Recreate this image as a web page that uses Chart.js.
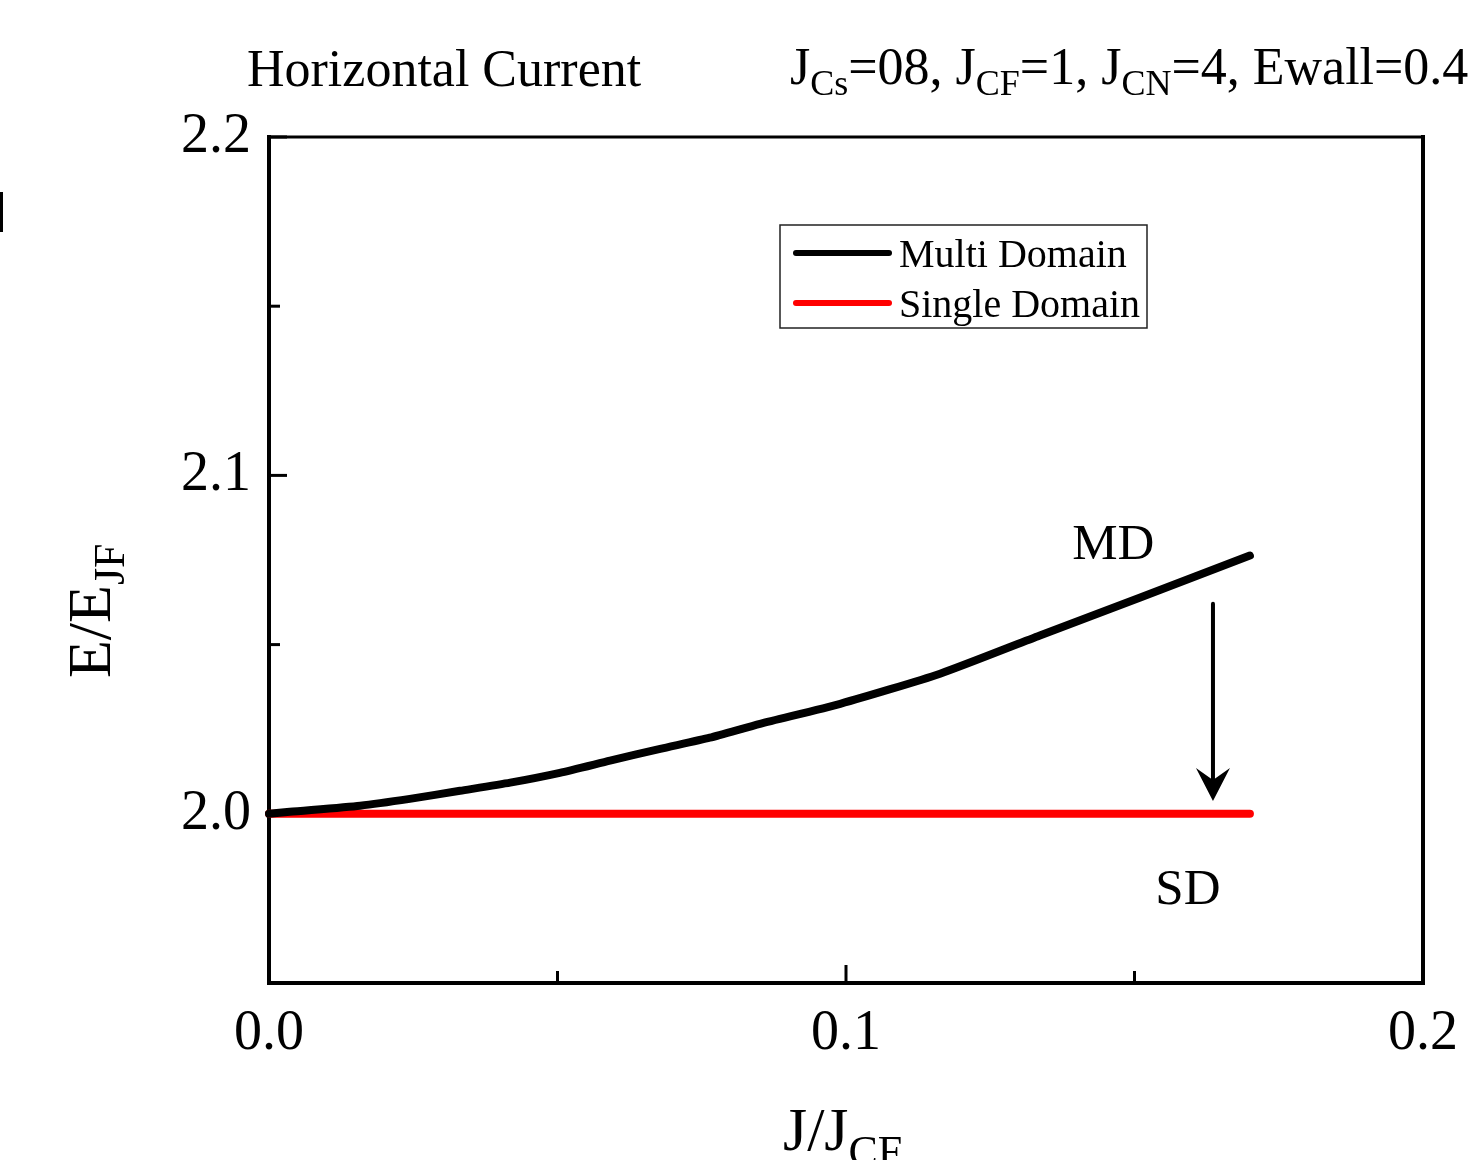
<!DOCTYPE html>
<html>
<head>
<meta charset="utf-8">
<script src="https://cdn.jsdelivr.net/npm/chart.js@4"></script>
<style>
  html, body { margin: 0; padding: 0; background: #fff; }
  #wrap { width: 1472px; height: 1160px; position: relative; }
</style>
</head>
<body>
<div id="wrap"><canvas id="myChart"></canvas></div>
<script>
// data
const mdX = [0, 0.0036, 0.0158, 0.0244, 0.0331, 0.0418, 0.0504, 0.0591, 0.0678, 0.0764, 0.0851, 0.0990, 0.1163, 0.1336, 0.1510, 0.1700];
const mdY = [2.0, 2.0006, 2.0024, 2.0044, 2.0068, 2.0092, 2.0121, 2.0157, 2.0192, 2.0225, 2.0266, 2.0325, 2.0414, 2.0527, 2.0639, 2.0763];
const sdX = [0, 0.17];
const sdY = [2.0, 2.0];
const seriesNames = ['Multi Domain', 'Single Domain'];
const xRange = [0, 0.2];
const yRange = [1.95, 2.2];

const SERIF = '"Liberation Serif", "Times New Roman", serif';

// draw text with subscript parts, returns end x
function richText(ctx, parts, x, y, size, subSize, subDrop) {
  parts.forEach(p => {
    const s = p.sub ? subSize : size;
    ctx.font = s + 'px ' + SERIF;
    ctx.fillText(p.t, x, y + (p.sub ? subDrop : 0));
    x += ctx.measureText(p.t).width;
  });
  return x;
}

function isMajor(v) {
  return Math.abs(v * 10 - Math.round(v * 10)) < 1e-6;
}

const framePlugin = {
  id: 'frame',
  beforeDatasetsDraw(chart) {
    const ctx = chart.ctx;
    const a = chart.chartArea;
    const xs = chart.scales.x, ys = chart.scales.y;
    ctx.save();
    ctx.strokeStyle = '#000';
    ctx.lineCap = 'square';
    ctx.lineWidth = 4;
    ctx.beginPath();
    ctx.moveTo(a.left, a.top);
    ctx.lineTo(a.left, a.bottom);
    ctx.lineTo(a.right, a.bottom);
    ctx.lineTo(a.right, a.top);
    ctx.stroke();
    ctx.lineWidth = 3;
    ctx.beginPath();
    ctx.moveTo(a.left, a.top);
    ctx.lineTo(a.right, a.top);
    ctx.stroke();
    // inward ticks
    ctx.lineWidth = 3;
    ctx.lineCap = 'butt';
    xs.ticks.forEach(t => {
      if (t.value <= xRange[0] || t.value >= xRange[1]) return;
      const px = xs.getPixelForValue(t.value);
      const len = isMajor(t.value) ? 18 : 12;
      ctx.beginPath();
      ctx.moveTo(px, a.bottom);
      ctx.lineTo(px, a.bottom - len);
      ctx.stroke();
    });
    ys.ticks.forEach(t => {
      if (t.value <= yRange[0] + 1e-9) return;
      const py = ys.getPixelForValue(t.value);
      const len = isMajor(t.value) ? 18 : 11;
      ctx.beginPath();
      ctx.moveTo(a.left, py);
      ctx.lineTo(a.left + len, py);
      ctx.stroke();
    });
    ctx.restore();
  },
  afterDraw(chart) {
    const ctx = chart.ctx;
    const xs = chart.scales.x, ys = chart.scales.y;
    ctx.save();
    ctx.fillStyle = '#000';
    ctx.textBaseline = 'alphabetic';
    ctx.textAlign = 'left';

    // headings
    ctx.font = '52px ' + SERIF;
    ctx.fillText('Horizontal Current', 247, 86);
    richText(ctx, [
      {t: 'J'}, {t: 'Cs', sub: true}, {t: '=08, J'}, {t: 'CF', sub: true},
      {t: '=1, J'}, {t: 'CN', sub: true}, {t: '=4, Ewall=0.4'}
    ], 790, 84, 52, 36, 11);

    // axis titles
    richText(ctx, [{t: 'J/J'}, {t: 'CF', sub: true}], 783, 1150, 62, 44, 16);
    ctx.save();
    ctx.translate(110, 678);
    ctx.rotate(-Math.PI / 2);
    richText(ctx, [{t: 'E/E'}, {t: 'JF', sub: true}], 0, 0, 62, 44, 14);
    ctx.restore();

    // stray mark at the left edge
    ctx.fillRect(0, 192, 3, 40);

    // legend
    const lx = 780, ly = 225, lw = 367, lh = 103;
    ctx.lineWidth = 1.5;
    ctx.strokeStyle = '#222';
    ctx.strokeRect(lx, ly, lw, lh);
    chart.data.datasets.forEach((ds, i) => {
      const yy = ly + 28 + i * 50;
      ctx.strokeStyle = ds.borderColor;
      ctx.lineWidth = 6;
      ctx.lineCap = 'round';
      ctx.beginPath();
      ctx.moveTo(lx + 16, yy);
      ctx.lineTo(lx + 109, yy);
      ctx.stroke();
      ctx.font = '40px ' + SERIF;
      ctx.fillText(ds.label, lx + 119, yy + 14);
    });

    // annotations
    ctx.font = '51px ' + SERIF;
    ctx.fillText('MD', xs.getPixelForValue(0.1392), ys.getPixelForValue(2.0754));
    ctx.fillText('SD', xs.getPixelForValue(0.1536), ys.getPixelForValue(1.9734));

    // arrow MD -> SD
    const ax = xs.getPixelForValue(0.1636);
    const ay0 = ys.getPixelForValue(2.0621);
    const ay1 = ys.getPixelForValue(2.0038);
    ctx.strokeStyle = '#000';
    ctx.lineWidth = 4;
    ctx.lineCap = 'round';
    ctx.beginPath();
    ctx.moveTo(ax, ay0);
    ctx.lineTo(ax, ay1 - 14);
    ctx.stroke();
    ctx.beginPath();
    ctx.moveTo(ax, ay1);
    ctx.lineTo(ax - 17, ay1 - 33);
    ctx.lineTo(ax, ay1 - 21);
    ctx.lineTo(ax + 17, ay1 - 33);
    ctx.closePath();
    ctx.fill();
    ctx.restore();
  }
};

const chartData = {
  datasets: [{
    label: seriesNames[0],
    data: mdX.map((x, i) => ({x: x, y: mdY[i]})),
    borderColor: '#000000',
    borderWidth: 8,
    borderCapStyle: 'round',
    borderJoinStyle: 'round',
    pointRadius: 0,
    tension: 0.2,
    clip: false
  }, {
    label: seriesNames[1],
    data: sdX.map((x, i) => ({x: x, y: sdY[i]})),
    borderColor: '#ff0000',
    borderWidth: 8,
    borderCapStyle: 'round',
    pointRadius: 0,
    clip: false
  }]
};

const config = {
  type: 'line',
  data: chartData,
  options: {
    responsive: true,
    maintainAspectRatio: false,
    animation: false,
    devicePixelRatio: 1,
    layout: { padding: { top: 137, right: 49, left: 0, bottom: 0 } },
    plugins: { legend: { display: false }, tooltip: { enabled: false } },
    scales: {
      x: {
        type: 'linear',
        min: xRange[0], max: xRange[1],
        grid: { display: false, drawTicks: false },
        border: { display: false },
        ticks: {
          stepSize: 0.05,
          autoSkip: false,
          maxRotation: 0,
          padding: 18,
          color: '#000',
          font: { family: SERIF, size: 56 },
          callback: v => isMajor(v) ? v.toFixed(1) : ''
        },
        afterFit: s => { s.height = 177; s.paddingLeft = 0; s.paddingRight = 0; }
      },
      y: {
        type: 'linear',
        min: yRange[0], max: yRange[1],
        grid: { display: false, drawTicks: false },
        border: { display: false },
        ticks: {
          stepSize: 0.05,
          autoSkip: false,
          padding: 18,
          color: '#000',
          font: { family: SERIF, size: 56 },
          callback: v => (isMajor(v) && v > yRange[0] + 1e-9) ? v.toFixed(1) : ''
        },
        afterFit: s => { s.width = 269; s.paddingTop = 0; s.paddingBottom = 0; }
      }
    }
  },
  plugins: [framePlugin]
};

const myChart = new Chart(document.getElementById('myChart'), config);
</script>
</body>
</html>
